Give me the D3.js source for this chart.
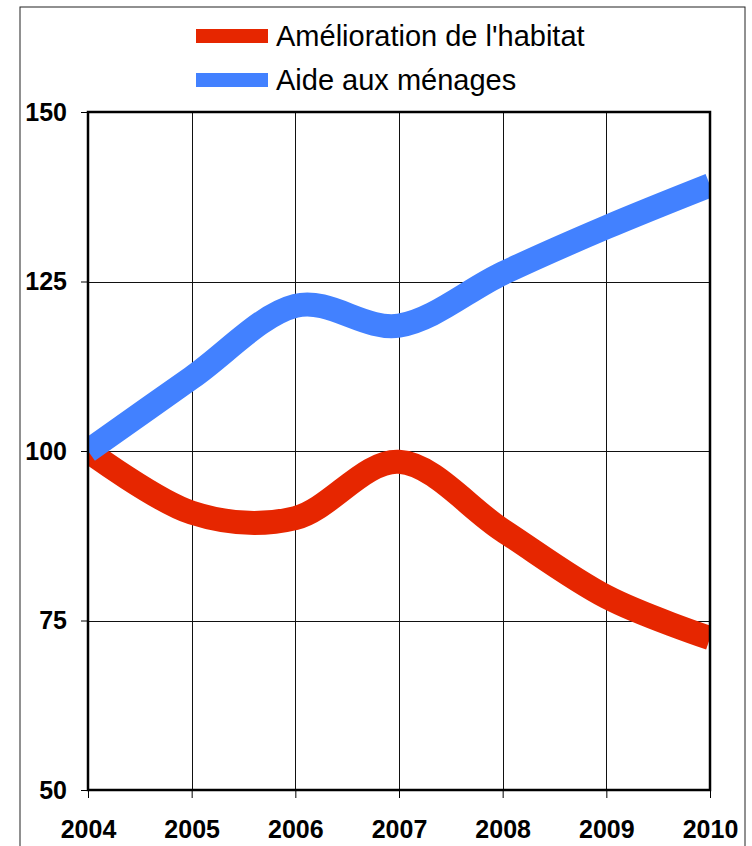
<!DOCTYPE html>
<html>
<head>
<meta charset="utf-8">
<script src="https://cdn.jsdelivr.net/npm/d3@7"></script>
<style>
  html, body { margin: 0; padding: 0; background: #fff; }
  svg { display: block; }
</style>
</head>
<body>
<div id="chart"></div>
<script>
const years = [2004, 2005, 2006, 2007, 2008, 2009, 2010];
const ameliorationHabitat = [100, 90.9, 90.1, 98.4, 88.3, 78.5, 72.4];
const aideMenages = [100, 110.8, 121.4, 118.5, 126.2, 133.0, 139.2];
const yTicks = [50, 75, 100, 125, 150];
const seriesNames = ["Amélioration de l'habitat", "Aide aux ménages"];
const seriesColors = ["#E62600", "#4281FF"];

const W = 752, H = 846;
const plot = { left: 88, right: 710, top: 112, bottom: 790 };

const svg = d3.select("#chart").append("svg")
  .attr("width", W).attr("height", H);

// outer frame
svg.append("rect")
  .attr("x", 20).attr("y", 7)
  .attr("width", 725).attr("height", H + 10)
  .attr("fill", "none").attr("stroke", "#222").attr("stroke-width", 1);

const x = d3.scaleLinear().domain([2004, 2010]).range([plot.left, plot.right]);
const y = d3.scaleLinear().domain([50, 150]).range([plot.bottom, plot.top]);

// grid
const g = svg.append("g");
g.selectAll(".vgrid").data(years.slice(1, -1)).join("line")
  .attr("x1", d => Math.round(x(d)) + 0.5).attr("x2", d => Math.round(x(d)) + 0.5)
  .attr("y1", plot.top).attr("y2", plot.bottom)
  .attr("stroke", "#111").attr("stroke-width", 1);
g.selectAll(".hgrid").data(yTicks.slice(1, -1)).join("line")
  .attr("x1", plot.left).attr("x2", plot.right)
  .attr("y1", d => Math.round(y(d)) + 0.5).attr("y2", d => Math.round(y(d)) + 0.5)
  .attr("stroke", "#111").attr("stroke-width", 1);

// lines
svg.append("clipPath").attr("id", "plotclip").append("rect")
  .attr("x", plot.left).attr("y", plot.top - 20)
  .attr("width", plot.right - plot.left).attr("height", plot.bottom - plot.top + 40);

const line = d3.line()
  .x((d, i) => x(years[i]))
  .y(d => y(d))
  .curve(d3.curveCardinal.tension(0));

const lg = svg.append("g").attr("clip-path", "url(#plotclip)");
[ameliorationHabitat, aideMenages].forEach((s, k) => {
  lg.append("path")
    .attr("d", line(s))
    .attr("fill", "none")
    .attr("stroke", seriesColors[k])
    .attr("stroke-width", 24)
    .attr("stroke-linejoin", "round")
    .attr("stroke-linecap", "butt");
});

// axes
const fontFam = "'Liberation Sans', Arial, Helvetica, sans-serif";
const yAxis = svg.append("g")
  .attr("transform", `translate(${plot.left},0)`)
  .call(d3.axisLeft(y).tickValues(yTicks).tickSize(7).tickPadding(14).tickFormat(d3.format("d")));
const xAxis = svg.append("g")
  .attr("transform", `translate(0,${plot.bottom})`)
  .call(d3.axisBottom(x).tickValues(years).tickSize(8).tickPadding(22).tickFormat(d3.format("d")));
[yAxis, xAxis].forEach(a => {
  a.select(".domain").remove();
  a.selectAll(".tick line").attr("stroke", "#000").attr("stroke-width", 1);
  a.selectAll(".tick text")
    .attr("fill", "#000")
    .style("font-family", fontFam)
    .style("font-weight", "bold")
    .style("font-size", "25px");
});

// plot border
svg.append("rect")
  .attr("x", plot.left).attr("y", plot.top)
  .attr("width", plot.right - plot.left).attr("height", plot.bottom - plot.top)
  .attr("fill", "none").attr("stroke", "#000").attr("stroke-width", 2.5);

// legend
const leg = svg.append("g");
seriesNames.forEach((name, i) => {
  const cy = 36 + i * 44;
  leg.append("rect")
    .attr("x", 196).attr("y", cy - 7)
    .attr("width", 72).attr("height", 14)
    .attr("fill", seriesColors[i]);
  leg.append("text")
    .attr("x", 276).attr("y", cy + 10)
    .style("font-family", fontFam)
    .style("font-size", "29px")
    .attr("fill", "#000")
    .text(name);
});
</script>
</body>
</html>
